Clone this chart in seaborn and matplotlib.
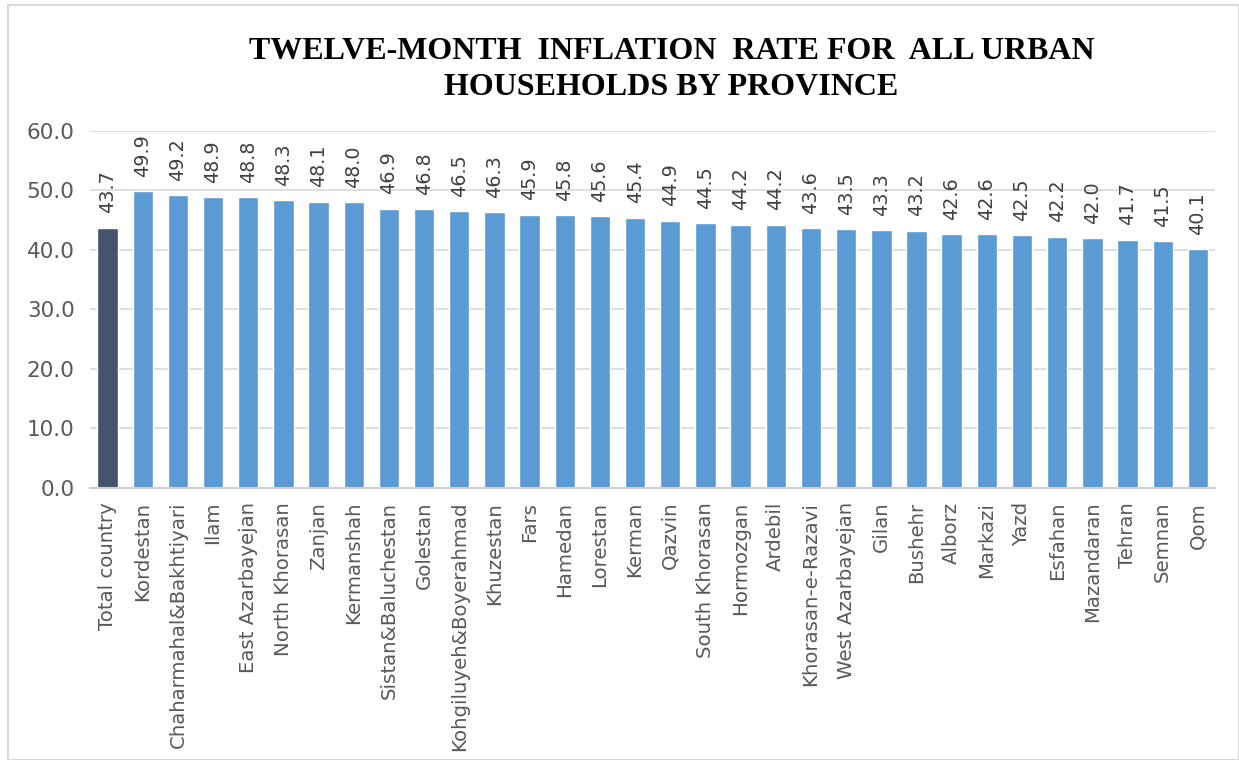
import matplotlib
matplotlib.use("Agg")
import matplotlib.pyplot as plt
import pandas as pd
import seaborn as sns
from matplotlib.patches import Rectangle

# Data
provinces = [
    "Total country", "Kordestan", "Chaharmahal&Bakhtiyari", "Ilam",
    "East Azarbayejan", "North Khorasan", "Zanjan", "Kermanshah",
    "Sistan&Baluchestan", "Golestan", "Kohgiluyeh&Boyerahmad", "Khuzestan",
    "Fars", "Hamedan", "Lorestan", "Kerman", "Qazvin", "South Khorasan",
    "Hormozgan", "Ardebil", "Khorasan-e-Razavi", "West Azarbayejan", "Gilan",
    "Bushehr", "Alborz", "Markazi", "Yazd", "Esfahan", "Mazandaran",
    "Tehran", "Semnan", "Qom",
]
rates = [
    43.7, 49.9, 49.2, 48.9, 48.8, 48.3, 48.1, 48.0, 46.9, 46.8, 46.5, 46.3,
    45.9, 45.8, 45.6, 45.4, 44.9, 44.5, 44.2, 44.2, 43.6, 43.5, 43.3, 43.2,
    42.6, 42.6, 42.5, 42.2, 42.0, 41.7, 41.5, 40.1,
]
y_ticks = [0, 10, 20, 30, 40, 50, 60]

df = pd.DataFrame({"province": provinces, "rate": rates})
palette = {p: ("#44546A" if p == "Total country" else "#5B9BD5") for p in provinces}

sns.set_style("white")
plt.rcParams["font.family"] = ["DejaVu Sans"]

fig = plt.figure(figsize=(12.39, 7.6), dpi=100)
ax = fig.add_axes([0.0726, 0.358, 0.9084, 0.470])

sns.barplot(data=df, x="province", y="rate", hue="province", palette=palette,
            legend=False, width=0.58, ax=ax, saturation=1)

ax.set_ylim(0, 60)
ax.set_yticks(y_ticks)
ax.set_yticklabels([f"{v:.1f}" for v in y_ticks])
ax.set_xlim(-0.5, len(provinces) - 0.5)
ax.yaxis.grid(True, color="#D9D9D9", linewidth=1.2)
ax.set_axisbelow(True)
for s in ["top", "right", "left"]:
    ax.spines[s].set_visible(False)
ax.spines["bottom"].set_color("#D0D0D0")
ax.spines["bottom"].set_linewidth(1.5)
ax.tick_params(axis="x", length=0, colors="#595959", labelsize=14.2, pad=10)
ax.tick_params(axis="y", length=0, colors="#595959", labelsize=15.5, pad=11)
plt.setp(ax.get_xticklabels(), rotation=90)
ax.set_xlabel("")
ax.set_ylabel("")

for i, v in enumerate(rates):
    ax.text(i, v + 2.4, f"{v:.1f}", rotation=90, ha="center", va="bottom",
            fontsize=13.8, color="#404040")

fig.text(0.542, 0.909, "TWELVE-MONTH  INFLATION  RATE FOR  ALL URBAN\nHOUSEHOLDS BY PROVINCE",
         ha="center", va="center", fontsize=23, fontweight="bold",
         family="Liberation Serif", color="black", linespacing=1.32)

fig.patches.append(Rectangle((8 / 1239, 0), 1 - 8 / 1239, 1 - 5 / 760,
                             transform=fig.transFigure, fill=False,
                             edgecolor="#D9D9D9", linewidth=1.5))

fig.savefig("out.png", dpi=100)
